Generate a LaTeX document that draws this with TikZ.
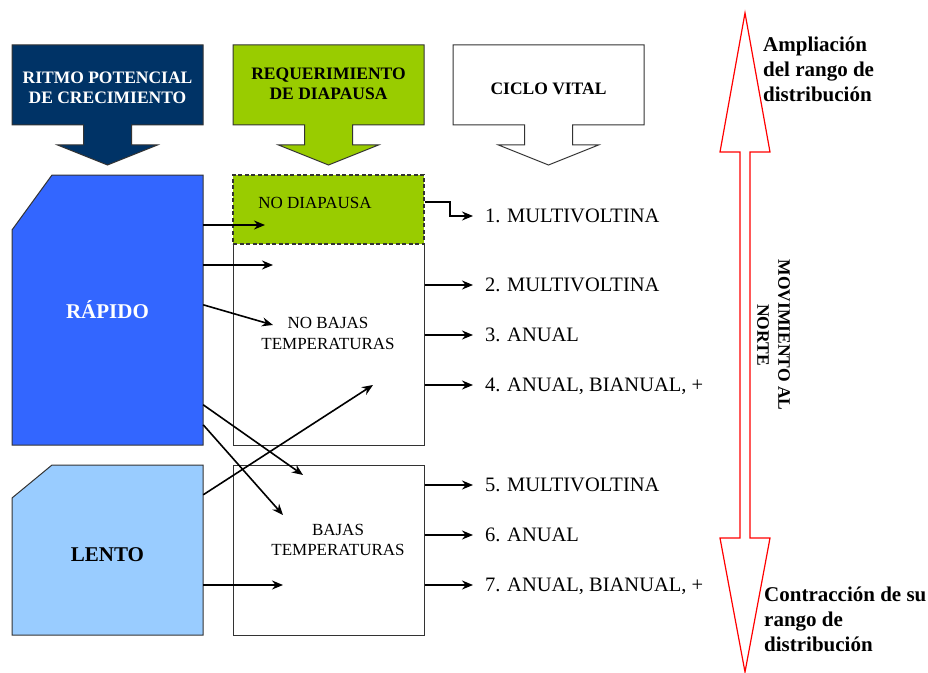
\documentclass[tikz,border=0pt]{standalone}
\usepackage{fontspec}
\setmainfont{Liberation Serif}
\usetikzlibrary{arrows.meta}
\definecolor{azuloscuro}{HTML}{003366}
\definecolor{verde}{HTML}{99CC00}
\definecolor{azul}{HTML}{3366FF}
\definecolor{celeste}{HTML}{99CCFF}
\definecolor{rojo}{HTML}{FF0000}
\definecolor{borde}{HTML}{333333}
\begin{document}
\begin{tikzpicture}[x=1bp, y=-1bp,
    flecha/.style={-{Stealth[length=11bp,width=9bp]}, line width=1.6bp},
    titulo/.style={font=\bfseries\fontsize{17.5bp}{20bp}\selectfont, align=center},
    caja/.style={draw=borde, line width=1bp, minimum width=191bp, inner sep=0pt},
    texto/.style={font=\fontsize{17bp}{20.5bp}\selectfont, align=center},
    ciclo/.style={font=\fontsize{20.5bp}{24bp}\selectfont, anchor=west, inner sep=1bp, outer sep=11bp, text depth=0pt},
    lado/.style={font=\bfseries\fontsize{21bp}{25bp}\selectfont, align=left, anchor=north west, inner sep=0pt}]
    \useasboundingbox (0,0) rectangle (928,673);

    % Flechas de encabezado
    \foreach \x/\c in {107.5/azuloscuro, 328.5/verde, 548.5/white}
        \filldraw[fill=\c, draw=borde, line width=1bp] (\x-95.5,45) -- (\x+95.5,45) -- (\x+95.5,125) -- (\x+24,125)
            -- (\x+24,145) -- (\x+50,145) -- (\x,165) -- (\x-50,145) -- (\x-24,145) -- (\x-24,125) -- (\x-95.5,125) -- cycle;

    % Formas de la izquierda
    \filldraw[fill=azul, draw=borde, line width=1bp] (52,175) -- (203,175) -- (203,445) -- (12,445) -- (12,230) -- cycle;
    \filldraw[fill=celeste, draw=borde, line width=1bp] (52,465) -- (203,465) -- (203,635) -- (12,635) -- (12,498) -- cycle;

    % Flecha doble
    \draw[rojo, line width=1.2bp, fill=white] (745,13) -- (770,152) -- (750,152) -- (750,538) -- (770,538) -- (745,672)
        -- (720,538) -- (740,538) -- (740,152) -- (720,152) -- cycle;

    % Nodos
    \node[titulo, text=white] (RP) at (107.5,88) {RITMO POTENCIAL\\DE CRECIMIENTO};
    \node[titulo] (RD) at (328.5,83.5) {REQUERIMIENTO\\DE DIAPAUSA};
    \node[titulo] (CV) at (548.5,89) {CICLO VITAL};

    \node[minimum width=191bp, minimum height=270bp, inner sep=0pt, text=white,
        font=\bfseries\fontsize{21bp}{25bp}\selectfont] (RA) at (107.5,310) {RÁPIDO};
    \node[minimum width=191bp, minimum height=170bp, inner sep=0pt, text height=24bp,
        font=\bfseries\fontsize{21bp}{25bp}\selectfont] (LE) at (107.5,550) {LENTO};

    \node[caja, minimum height=201bp] (NB) at (328.5,344.5) {};
    \node[caja, minimum height=170bp] (BT) at (328.5,550) {};
    \node[caja, dash pattern=on 4bp off 2.5bp, line width=1.4bp, fill=verde, minimum height=69bp] (ND) at (328.5,209.5) {};
    \node[texto] (ndt) at (315,203) {NO DIAPAUSA};
    \node[texto] (nbt) at (328,333.5) {NO BAJAS\\TEMPERATURAS};
    \node[texto] (btt) at (338,540) {BAJAS\\TEMPERATURAS};

    \node[ciclo] (M1) at (473,216) {1. MULTIVOLTINA};
    \node[ciclo] (M2) at (473,285) {2. MULTIVOLTINA};
    \node[ciclo] (M3) at (473,335) {3. ANUAL};
    \node[ciclo] (M4) at (473,385) {4. ANUAL, BIANUAL, +};
    \node[ciclo] (M5) at (473,485) {5. MULTIVOLTINA};
    \node[ciclo] (M6) at (473,535) {6. ANUAL};
    \node[ciclo] (M7) at (473,585) {7. ANUAL, BIANUAL, +};

    \node[rotate=-90, font=\bfseries\fontsize{17.5bp}{21bp}\selectfont, align=center] (MN) at (773.5,335) {MOVIMIENTO AL\\NORTE};
    \node[lado] (AM) at (763,37) {Ampliación\\del rango de\\distribución};
    \node[lado] (CO) at (764,587) {Contracción de su\\rango de\\distribución};

    \coordinate (t1) at (265,225);
    \coordinate (t2) at (273,265);
    \coordinate (t3) at (273,325);
    \coordinate (t4) at (373,385);
    \coordinate (t5) at (303,475);
    \coordinate (t6) at (283,515);
    \coordinate (t7) at (283,585);

    % Conexiones
    \draw[flecha] (RA.east |- t1) -- (t1);
    \draw[flecha] (RA.east |- t2) -- (t2);
    \draw[flecha] ([yshift=-130bp]RA.north east) -- (t3);
    \draw[flecha] ([yshift=-230bp]RA.north east) -- (t5);
    \draw[flecha] ([yshift=-250bp]RA.north east) -- (t6);
    \draw[flecha] ([yshift=-30bp]LE.north east) -- (t4);
    \draw[flecha] (LE.east |- t7) -- (t7);

    \draw[flecha] ([yshift=7.5bp]ND.east) -- ++(25,0) |- (M1.west);
    \draw[flecha] (NB.east |- M2) -- (M2.west);
    \draw[flecha] (NB.east |- M3) -- (M3.west);
    \draw[flecha] (NB.east |- M4) -- (M4.west);
    \draw[flecha] (BT.east |- M5) -- (M5.west);
    \draw[flecha] (BT.east |- M6) -- (M6.west);
    \draw[flecha] (BT.east |- M7) -- (M7.west);

\end{tikzpicture}
\end{document}
